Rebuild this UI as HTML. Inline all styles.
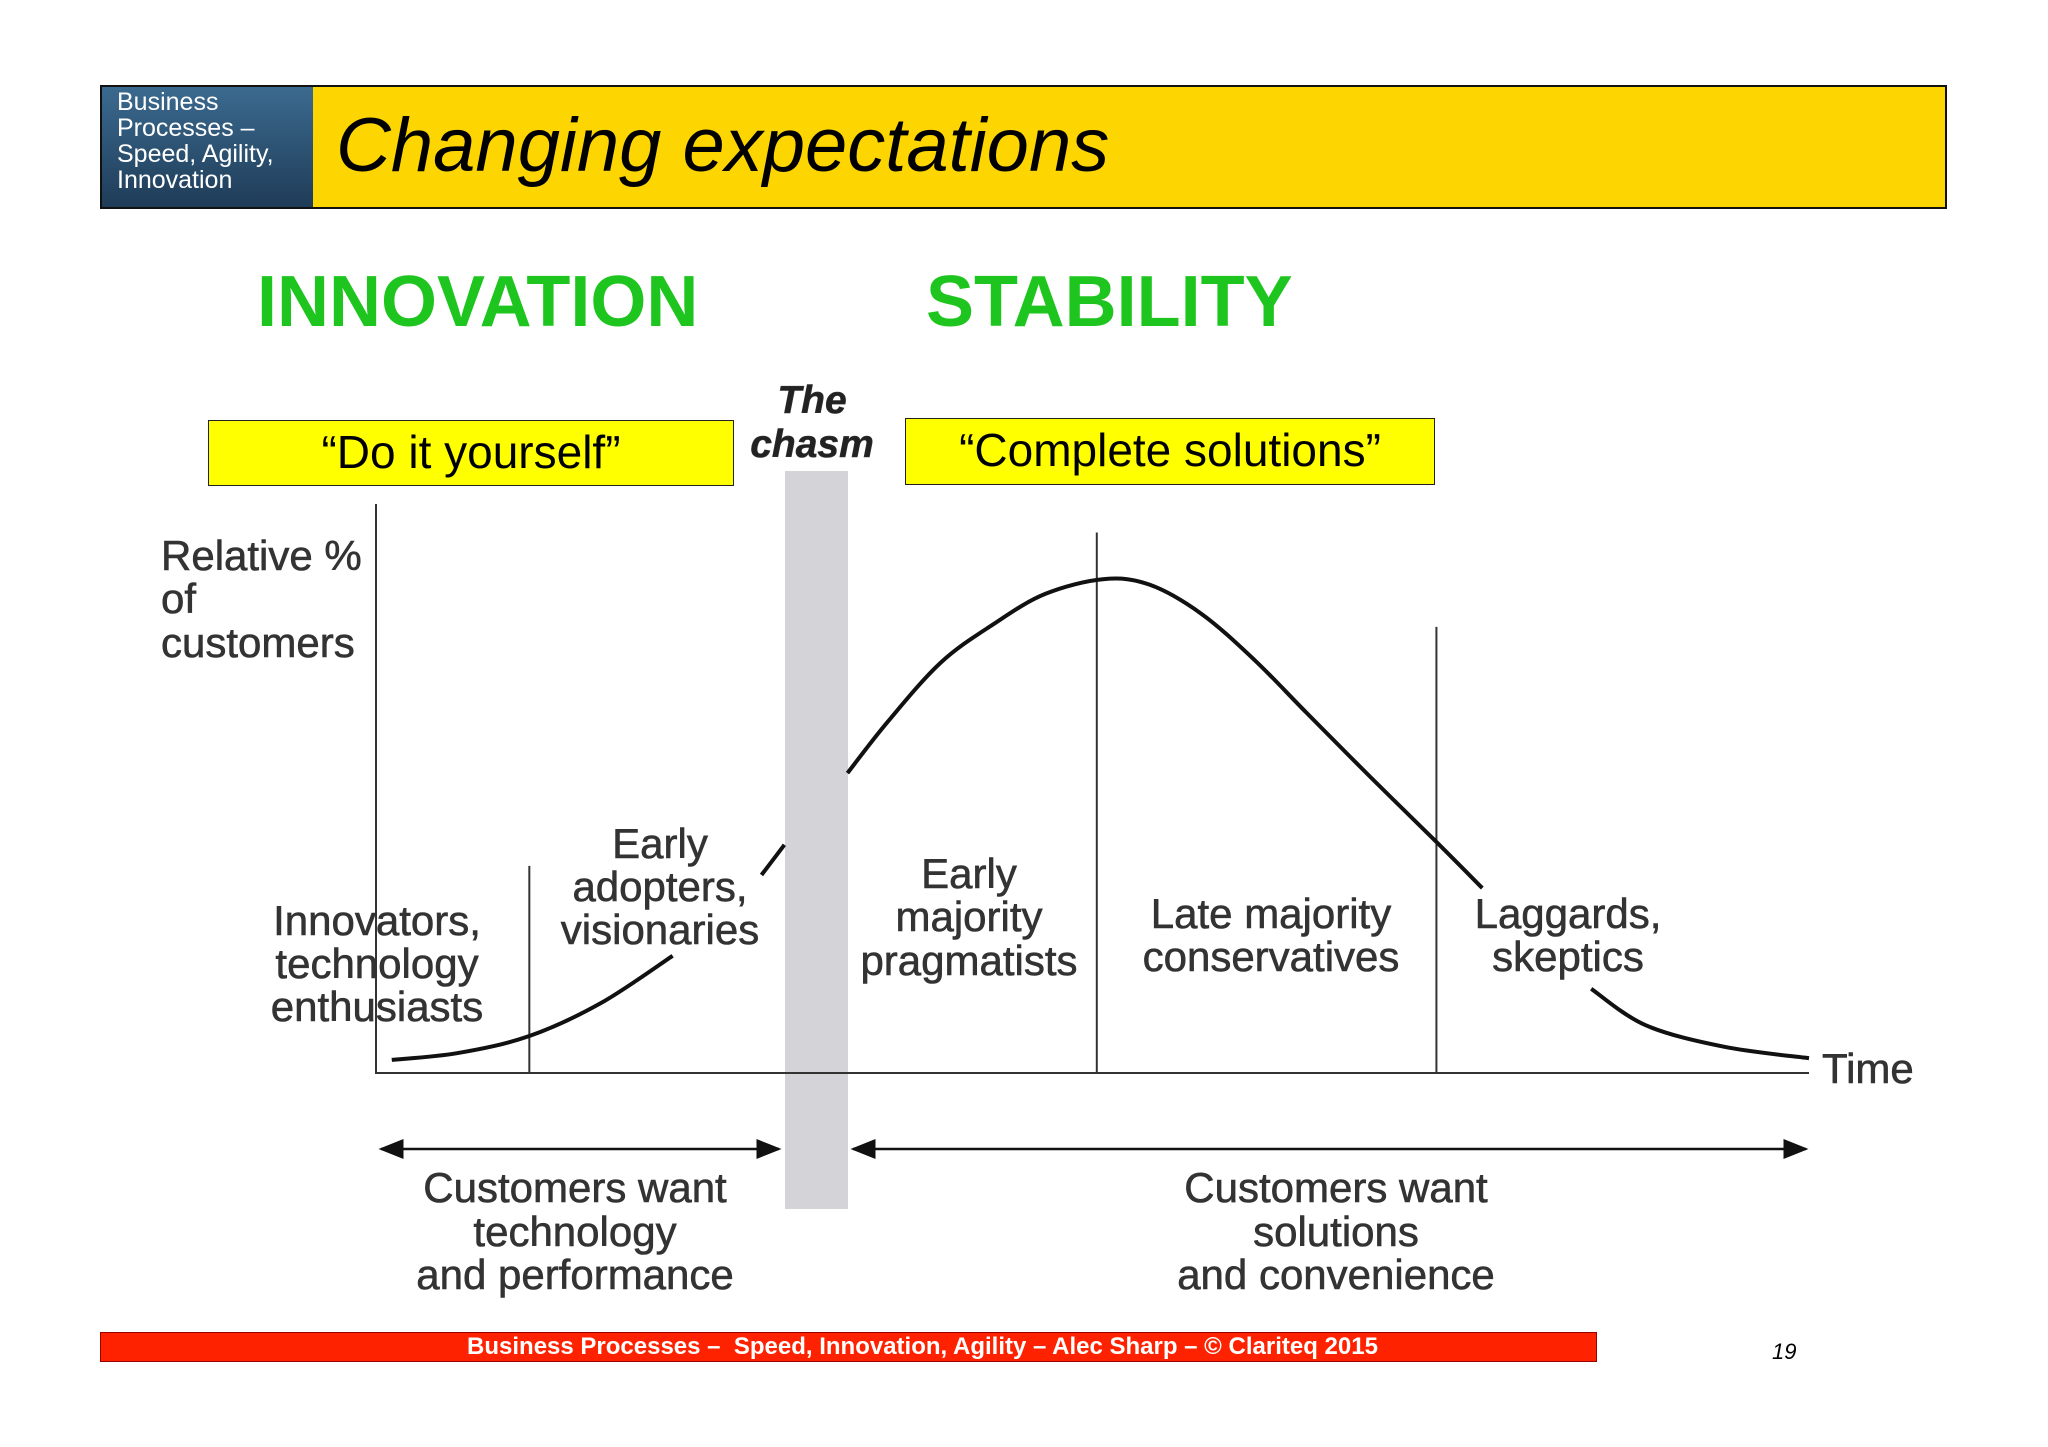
<!DOCTYPE html>
<html><head><meta charset="utf-8"><style>
body{margin:0;width:2048px;height:1447px;background:#fff;position:relative;overflow:hidden;font-family:"Liberation Sans",sans-serif}
.a{position:absolute}
</style></head><body>
<div class="a" style="left:100px;top:85px;width:1843px;height:120px;border:2px solid #111;background:#fdd500"></div>
<div class="a" style="left:102px;top:87px;width:211px;height:120px;background:linear-gradient(#3b6a8f,#1f3c58);color:#fff;font-size:25px;line-height:26px;padding:2px 0 0 15px;box-sizing:border-box">Business<br>Processes –<br>Speed, Agility,<br>Innovation</div>
<div class="a" style="left:336px;top:102px;font-size:76px;font-style:italic;color:#000">Changing expectations</div>
<div class="a" style="left:257px;top:261px;font-size:72px;font-weight:bold;color:#1ec51e">INNOVATION</div>
<div class="a" style="left:926px;top:261px;font-size:72px;font-weight:bold;color:#1ec51e">STABILITY</div>
<div class="a" style="left:208px;top:420px;width:526px;height:66px;box-sizing:border-box;border:1.5px solid #222;background:#ffff00;font-size:46px;text-align:center;line-height:62px">“Do it yourself”</div>
<div class="a" style="left:905px;top:418px;width:530px;height:67px;box-sizing:border-box;border:1.5px solid #222;background:#ffff00;font-size:46px;text-align:center;line-height:62px">“Complete solutions”</div>
<svg class="a" style="left:0;top:0" width="2048" height="1447">
<defs><marker id="ah" markerWidth="10" markerHeight="8" refX="9" refY="4" orient="auto-start-reverse"><path d="M0,0L10,4L0,8z" fill="#111"/></marker></defs>
<rect x="785" y="471" width="63" height="738" fill="#d4d4d8"/>
<g id="g" stroke="#333" stroke-width="2" fill="none"></g>
<g stroke="#111" stroke-width="2.5">
<line x1="381" y1="1149" x2="779" y2="1149" marker-start="url(#ah)" marker-end="url(#ah)"/>
<line x1="853" y1="1149" x2="1806" y2="1149" marker-start="url(#ah)" marker-end="url(#ah)"/>
</g>
<g font-family="Liberation Sans,sans-serif" fill="#333" stroke="#333" stroke-width="0.6" font-size="42" text-anchor="middle">
<text x="812" y="413" font-weight="bold" font-style="italic" font-size="39" fill="#222">The</text>
<text x="812" y="457" font-weight="bold" font-style="italic" font-size="39" fill="#222">chasm</text>
<text x="161" y="570" text-anchor="start">Relative %</text>
<text x="161" y="613" text-anchor="start">of</text>
<text x="161" y="657" text-anchor="start">customers</text>
<text x="377" y="935">Innovators,</text><text x="377" y="978">technology</text><text x="377" y="1021">enthusiasts</text>
<text x="660" y="858">Early</text><text x="660" y="901">adopters,</text><text x="660" y="944">visionaries</text>
<text x="969" y="888">Early</text><text x="969" y="931">majority</text><text x="969" y="975">pragmatists</text>
<text x="1271" y="928">Late majority</text><text x="1271" y="971">conservatives</text>
<text x="1568" y="928">Laggards,</text><text x="1568" y="971">skeptics</text>
<text x="1822" y="1083" text-anchor="start">Time</text>
<text x="575" y="1202">Customers want</text><text x="575" y="1246">technology</text><text x="575" y="1289">and performance</text>
<text x="1336" y="1202">Customers want</text><text x="1336" y="1246">solutions</text><text x="1336" y="1289">and convenience</text>
</g>
</svg>
<div class="a" style="left:100px;top:1332px;width:1497px;height:30px;background:#ff2200;border:1px solid #900;box-sizing:border-box;color:#fff;font-weight:bold;font-size:24px;text-align:center;line-height:27px;padding-left:148px">Business Processes –&nbsp; Speed, Innovation, Agility – Alec Sharp – © Clariteq 2015</div>
<div class="a" style="left:1772px;top:1339px;font-size:22px;font-style:italic">19</div>
<script>
const curveX=[1.1,5.7,10.7,15.7,20.7,26.9,28.5,32.9,35.7,39.4,43.1,46.7,50.8,54.0,57.6,61.3,64.9,69.4,74.0,77.2,84.8,88.6,94.1,100];
const curveY=[2.3,3.5,6.5,12.3,20.6,34.8,40.1,52.7,61.7,72.1,78.9,84.2,86.8,85.8,80.7,72.6,63.4,52.0,40.6,32.5,14.8,8.4,4.6,2.6];
const segments=[[0,4],[5,6],[7,19],[20,23]];
const dividerX=[0,10.7,50.3,74.0];
const dividerTop=[100,36.4,95,78.4];
const X=v=>376+v/100*1433, Y=v=>1073-v/100*569;
const g=document.getElementById('g');
const ns='http://www.w3.org/2000/svg';
function mk(t,a){const e=document.createElementNS(ns,t);for(const k in a)e.setAttribute(k,a[k]);g.appendChild(e);return e;}
const ax=mk('path',{d:`M${X(0)},${Y(100)}V${Y(0)}H${X(100)}`});


dividerX.forEach((d,i)=>{if(i===0)return;const l=mk('line',{x1:X(d),x2:X(d),y1:Y(dividerTop[i]),y2:Y(0)});

});
segments.forEach(([a,b])=>{const p=[];for(let i=a;i<=b;i++)p.push([X(curveX[i]),Y(curveY[i])]);
let d=`M${p[0][0]},${p[0][1]}`;
for(let i=0;i<p.length-1;i++){const p0=p[i-1]||p[i],p1=p[i],p2=p[i+1],p3=p[i+2]||p2;
d+=`C${p1[0]+(p2[0]-p0[0])/6},${p1[1]+(p2[1]-p0[1])/6} ${p2[0]-(p3[0]-p1[0])/6},${p2[1]-(p3[1]-p1[1])/6} ${p2[0]},${p2[1]}`;}
const e=mk('path',{d,'stroke-width':4,stroke:'#111'});

});
</script>
</body></html>
